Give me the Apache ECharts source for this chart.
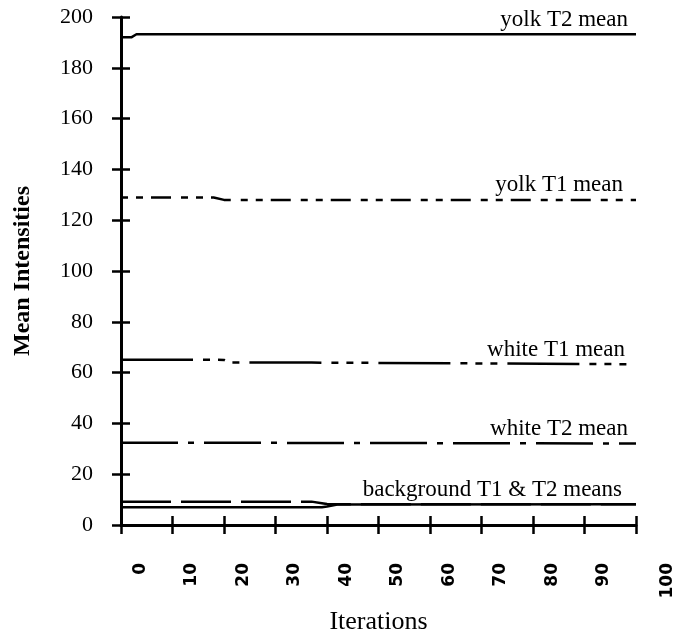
<!DOCTYPE html>
<html>
<head>
<meta charset="utf-8">
<script src="https://cdn.jsdelivr.net/npm/echarts@6/dist/echarts.min.js"></script>
<style>
  html, body { margin: 0; padding: 0; background: #fff; }
  #chart { width: 675px; height: 637px; }
</style>
</head>
<body>
<div id="chart"></div>
<script>
const iterations = [0, 2, 3, 18, 20, 21, 37, 39, 40, 42, 100];
const yolkT2 = [192.0, 192.0, 193.2, 193.2, 193.2, 193.2, 193.2, 193.2, 193.2, 193.2, 193.2];
const yolkT1 = [128.9, 128.9, 128.9, 128.9, 128.0, 128.0, 128.0, 128.0, 128.0, 128.0, 128.0];
const whiteT1 = [65.1, 65.1, 65.1, 65.1, 65.0, 64.0, 64.0, 63.9, 63.9, 63.9, 63.3];
const whiteT2 = [32.4, 32.4, 32.4, 32.4, 32.4, 32.4, 32.3, 32.3, 32.3, 32.3, 32.1];
const bgT1 = [9.2, 9.2, 9.2, 9.2, 9.2, 9.2, 9.2, 8.6, 8.3, 8.2, 8.2];
const bgT2 = [7.0, 7.0, 7.0, 7.0, 7.0, 7.0, 7.0, 7.0, 7.3, 8.1, 8.2];

const xTicks = [0, 10, 20, 30, 40, 50, 60, 70, 80, 90, 100];
const yTicks = [0, 20, 40, 60, 80, 100, 120, 140, 160, 180, 200];

const serif = "'Liberation Serif', 'Times New Roman', serif";

function pairs(values) {
  return iterations.map((x, i) => [x, values[i]]);
}

// line label sits above the right end of each curve
function makeSeries(name, values, dash, label, shift) {
  return {
    name: name,
    type: "line",
    data: pairs(values),
    showSymbol: false,
    silent: true,
    lineStyle: { color: "#000", width: 2.5, type: dash, cap: "butt" },
    endLabel: {
      show: !!label,
      formatter: label || "",
      distance: 0,
      align: "right",
      verticalAlign: "bottom",
      offset: [shift, -3],
      fontFamily: serif,
      fontSize: 23,
      color: "#000",
    },
  };
}

const tickStyle = { color: "#000", width: 2.5 };

const chart = echarts.init(document.getElementById("chart"));

chart.setOption({
  animation: false,
  backgroundColor: "#fff",
  grid: { left: 121, right: 39, top: 17, bottom: 112, outerBoundsMode: "none" },
  xAxis: [
    {
      type: "value",
      min: 0,
      max: 100,
      interval: 10,
      name: "Iterations",
      nameLocation: "middle",
      nameGap: 84,
      nameTextStyle: { fontFamily: serif, fontSize: 26, color: "#000" },
      axisLine: { lineStyle: { color: "#000", width: 3 } },
      axisTick: { length: 9, lineStyle: tickStyle },
      splitLine: { show: false },
      axisLabel: {
        rotate: 90,
        margin: 38,
        verticalAlign: "top",
        padding: [11, 0, 0, 0],
        fontFamily: "'DejaVu Sans', sans-serif",
        fontWeight: "bold",
        fontSize: 17,
        color: "#000",
        showMinLabel: true,
        showMaxLabel: true,
        formatter: (v) => (v === 100 ? "{far|100}" : xTicks.indexOf(v) >= 0 ? String(v) : ""),
        rich: {
          far: {
            fontFamily: "'DejaVu Sans', sans-serif",
            fontWeight: "bold",
            fontSize: 17,
            color: "#000",
            padding: [12, 0, 0, 0],
          },
        },
      },
    },
    {
      // second axis only adds the upper half of the crossing ticks
      type: "value",
      position: "bottom",
      min: 0,
      max: 100,
      interval: 10,
      axisLine: { show: false },
      axisTick: { inside: true, length: 9, lineStyle: tickStyle },
      axisLabel: { show: false },
      splitLine: { show: false },
    },
  ],
  yAxis: [
    {
      type: "value",
      min: 0,
      max: 200,
      interval: 20,
      name: "Mean Intensities",
      nameLocation: "middle",
      nameGap: 86,
      nameTextStyle: { fontFamily: serif, fontWeight: "bold", fontSize: 24, color: "#000" },
      axisLine: { show: true, lineStyle: { color: "#000", width: 3 } },
      axisTick: { show: true, length: 9, lineStyle: tickStyle },
      splitLine: { show: false },
      axisLabel: {
        margin: 28,
        fontFamily: serif,
        fontSize: 22,
        color: "#000",
        formatter: (v) => (yTicks.indexOf(v) >= 0 ? String(v) : ""),
      },
    },
    {
      type: "value",
      position: "left",
      min: 0,
      max: 200,
      interval: 20,
      axisLine: { show: false },
      axisTick: { show: true, inside: true, length: 9, lineStyle: tickStyle },
      axisLabel: { show: false },
      splitLine: { show: false },
    },
  ],
  series: [
    makeSeries("yolk T2 mean", yolkT2, "solid", "yolk T2 mean", -8),
    makeSeries("yolk T1 mean", yolkT1, [7, 8, 7, 8, 20, 10], "yolk T1 mean", -13),
    makeSeries("white T1 mean", whiteT1, [72, 10, 7, 8, 7, 8, 7, 10], "white T1 mean", -11),
    makeSeries("white T2 mean", whiteT2, [57, 10, 6, 10], "white T2 mean", -8),
    makeSeries("background T1 mean", bgT1, [50, 10], null, 0),
    makeSeries("background T2 mean", bgT2, "solid", "background T1 & T2 means", -14),
  ],
});
</script>
</body>
</html>
